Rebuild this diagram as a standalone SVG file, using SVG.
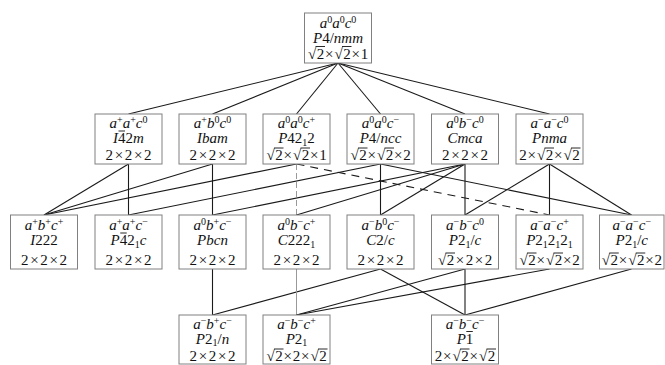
<svg xmlns="http://www.w3.org/2000/svg" width="665" height="365" viewBox="0 0 665 365">
<style>
.box{fill:#fff;stroke:#808080;stroke-width:1}
.t{font-family:"Liberation Serif","DejaVu Serif",serif;font-size:15px;text-anchor:middle;fill:#111}
.i{font-style:italic}
.s{font-size:10px}
.bar{stroke:#111;stroke-width:0.9;fill:none}
.e{stroke:#1a1a1a;stroke-width:1.1;fill:none}
.g{stroke:#999;stroke-width:1;fill:none}
.gd{stroke:#999;stroke-width:1;fill:none;stroke-dasharray:6,3}
.d{stroke:#1a1a1a;stroke-width:1.1;fill:none;stroke-dasharray:8,6}
</style>
<g id="connectors">
<line class="e" x1="338" y1="63" x2="128.5" y2="114"/>
<line class="e" x1="338" y1="63" x2="212.5" y2="114"/>
<line class="e" x1="338" y1="63" x2="296.5" y2="114"/>
<line class="e" x1="338" y1="63" x2="380.5" y2="114"/>
<line class="e" x1="338" y1="63" x2="465" y2="114"/>
<line class="e" x1="338" y1="63" x2="549.5" y2="114"/>
<line class="e" x1="128.5" y1="164" x2="44" y2="215"/>
<line class="e" x1="128.5" y1="164" x2="128.5" y2="215"/>
<line class="e" x1="212.5" y1="164" x2="44" y2="215"/>
<line class="e" x1="212.5" y1="164" x2="212.5" y2="215"/>
<line class="e" x1="296.5" y1="164" x2="44" y2="215"/>
<line class="gd" x1="296.5" y1="164" x2="296.5" y2="215"/>
<line class="d" x1="296.5" y1="164" x2="549.5" y2="215"/>
<line class="e" x1="380.5" y1="164" x2="128.5" y2="215"/>
<line class="e" x1="380.5" y1="164" x2="380.5" y2="215"/>
<line class="e" x1="380.5" y1="164" x2="631.5" y2="215"/>
<line class="e" x1="465" y1="164" x2="212.5" y2="215"/>
<line class="e" x1="465" y1="164" x2="296.5" y2="215"/>
<line class="e" x1="465" y1="164" x2="380.5" y2="215"/>
<line class="e" x1="465" y1="164" x2="465" y2="215"/>
<line class="e" x1="549.5" y1="164" x2="465" y2="215"/>
<line class="e" x1="549.5" y1="164" x2="549.5" y2="215"/>
<line class="e" x1="549.5" y1="164" x2="631.5" y2="215"/>
<line class="e" x1="212.5" y1="269" x2="212.5" y2="315"/>
<line class="e" x1="380.5" y1="269" x2="212.5" y2="315"/>
<line class="e" x1="380.5" y1="269" x2="465" y2="315"/>
<line class="g" x1="296.5" y1="269" x2="296.5" y2="315"/>
<line class="e" x1="465" y1="269" x2="296.5" y2="315"/>
<line class="e" x1="549.5" y1="269" x2="296.5" y2="315"/>
<line class="e" x1="465" y1="269" x2="465" y2="315"/>
<line class="e" x1="631.5" y1="269" x2="465" y2="315"/>
</g>

<g id="n-a0a0c0">
<rect class="box" x="304.5" y="13" width="67" height="50"/>
<text class="t" x="338" y="28"><tspan class="i">a</tspan><tspan class="s" dy="-5">0</tspan><tspan class="i" dy="5">a</tspan><tspan class="s" dy="-5">0</tspan><tspan class="i" dy="5">c</tspan><tspan class="s" dy="-5">0</tspan></text>
<text class="t" x="338" y="42.5"><tspan class="i">P</tspan>4/<tspan class="i">nmm</tspan></text>
<text class="t" x="312 320.5 329.25 338.5 347 355.75 364.5" y="58.5">√2×√2×1</text>
<path class="bar" d="M315.5 46.5H325M342 46.5H351.5"/>
</g>

<g id="n-apapc0">
<rect class="box" x="95" y="114" width="67" height="50"/>
<text class="t" x="128.5" y="128"><tspan class="i">a</tspan><tspan class="s" dy="-5">+</tspan><tspan class="i" dy="5">a</tspan><tspan class="s" dy="-5">+</tspan><tspan class="i" dy="5">c</tspan><tspan class="s" dy="-5">0</tspan></text>
<text class="t" x="128.5" y="143"><tspan class="i">I</tspan>42<tspan class="i">m</tspan></text>
<path class="bar" d="M118.5 131H125"/>
<text class="t" x="128.5" y="160" textLength="46" lengthAdjust="spacing">2×2×2</text>
</g>

<g id="n-apb0c0">
<rect class="box" x="179" y="114" width="67" height="50"/>
<text class="t" x="212.5" y="128"><tspan class="i">a</tspan><tspan class="s" dy="-5">+</tspan><tspan class="i" dy="5">b</tspan><tspan class="s" dy="-5">0</tspan><tspan class="i" dy="5">c</tspan><tspan class="s" dy="-5">0</tspan></text>
<text class="t i" x="212.5" y="143">Ibam</text>
<text class="t" x="212.5" y="160" textLength="46" lengthAdjust="spacing">2×2×2</text>
</g>

<g id="n-a0a0cp">
<rect class="box" x="263" y="114" width="67" height="50"/>
<text class="t" x="296.5" y="128"><tspan class="i">a</tspan><tspan class="s" dy="-5">0</tspan><tspan class="i" dy="5">a</tspan><tspan class="s" dy="-5">0</tspan><tspan class="i" dy="5">c</tspan><tspan class="s" dy="-5">+</tspan></text>
<text class="t" x="296.5" y="143"><tspan class="i">P</tspan>42<tspan class="s" dy="2.5">1</tspan><tspan dy="-2.5">2</tspan></text>
<text class="t" x="270.5 279 287.75 297 305.5 314.25 323" y="160">√2×√2×1</text>
<path class="bar" d="M274 148H283.5M300.5 148H310"/>
</g>

<g id="n-a0a0cm">
<rect class="box" x="347" y="114" width="67" height="50"/>
<text class="t" x="380.5" y="128"><tspan class="i">a</tspan><tspan class="s" dy="-5">0</tspan><tspan class="i" dy="5">a</tspan><tspan class="s" dy="-5">0</tspan><tspan class="i" dy="5">c</tspan><tspan class="s" dy="-5">−</tspan></text>
<text class="t" x="380.5" y="143"><tspan class="i">P</tspan>4/<tspan class="i">ncc</tspan></text>
<text class="t" x="354.5 363 371.75 381 389.5 398.25 407" y="160">√2×√2×2</text>
<path class="bar" d="M358 148H367.5M384.5 148H394"/>
</g>

<g id="n-a0bmc0">
<rect class="box" x="431.5" y="114" width="67" height="50"/>
<text class="t" x="465" y="128"><tspan class="i">a</tspan><tspan class="s" dy="-5">0</tspan><tspan class="i" dy="5">b</tspan><tspan class="s" dy="-5">−</tspan><tspan class="i" dy="5">c</tspan><tspan class="s" dy="-5">0</tspan></text>
<text class="t i" x="465" y="143">Cmca</text>
<text class="t" x="465" y="160" textLength="46" lengthAdjust="spacing">2×2×2</text>
</g>

<g id="n-amamc0">
<rect class="box" x="516" y="114" width="67" height="50"/>
<text class="t" x="549.5" y="128"><tspan class="i">a</tspan><tspan class="s" dy="-5">−</tspan><tspan class="i" dy="5">a</tspan><tspan class="s" dy="-5">−</tspan><tspan class="i" dy="5">c</tspan><tspan class="s" dy="-5">0</tspan></text>
<text class="t i" x="549.5" y="143">Pnma</text>
<text class="t" x="523 531.75 541 549.5 558.25 567.5 576" y="160">2×√2×√2</text>
<path class="bar" d="M544.5 148H554M571 148H580.5"/>
</g>

<g id="n-apbpcp">
<rect class="box" x="10.5" y="215" width="67" height="54"/>
<text class="t" x="44" y="229.5"><tspan class="i">a</tspan><tspan class="s" dy="-5">+</tspan><tspan class="i" dy="5">b</tspan><tspan class="s" dy="-5">+</tspan><tspan class="i" dy="5">c</tspan><tspan class="s" dy="-5">+</tspan></text>
<text class="t" x="44" y="245"><tspan class="i">I</tspan>222</text>
<text class="t" x="44" y="265" textLength="46" lengthAdjust="spacing">2×2×2</text>
</g>

<g id="n-apapcm">
<rect class="box" x="95" y="215" width="67" height="54"/>
<text class="t" x="128.5" y="229.5"><tspan class="i">a</tspan><tspan class="s" dy="-5">+</tspan><tspan class="i" dy="5">a</tspan><tspan class="s" dy="-5">+</tspan><tspan class="i" dy="5">c</tspan><tspan class="s" dy="-5">−</tspan></text>
<text class="t" x="128.5" y="245"><tspan class="i">P</tspan>42<tspan class="s" dy="2.5">1</tspan><tspan class="i" dy="-2.5">c</tspan></text>
<path class="bar" d="M120.25 233H126.75"/>
<text class="t" x="128.5" y="265" textLength="46" lengthAdjust="spacing">2×2×2</text>
</g>

<g id="n-a0bpcm">
<rect class="box" x="179" y="215" width="67" height="54"/>
<text class="t" x="212.5" y="229.5"><tspan class="i">a</tspan><tspan class="s" dy="-5">0</tspan><tspan class="i" dy="5">b</tspan><tspan class="s" dy="-5">+</tspan><tspan class="i" dy="5">c</tspan><tspan class="s" dy="-5">−</tspan></text>
<text class="t i" x="212.5" y="245">Pbcn</text>
<text class="t" x="212.5" y="265" textLength="46" lengthAdjust="spacing">2×2×2</text>
</g>

<g id="n-a0bmcp">
<rect class="box" x="263" y="215" width="67" height="54"/>
<text class="t" x="296.5" y="229.5"><tspan class="i">a</tspan><tspan class="s" dy="-5">0</tspan><tspan class="i" dy="5">b</tspan><tspan class="s" dy="-5">−</tspan><tspan class="i" dy="5">c</tspan><tspan class="s" dy="-5">+</tspan></text>
<text class="t" x="296.5" y="245"><tspan class="i">C</tspan>222<tspan class="s" dy="2.5">1</tspan></text>
<text class="t" x="296.5" y="265" textLength="46" lengthAdjust="spacing">2×2×2</text>
</g>

<g id="n-amb0cm">
<rect class="box" x="347" y="215" width="67" height="54"/>
<text class="t" x="380.5" y="229.5"><tspan class="i">a</tspan><tspan class="s" dy="-5">−</tspan><tspan class="i" dy="5">b</tspan><tspan class="s" dy="-5">0</tspan><tspan class="i" dy="5">c</tspan><tspan class="s" dy="-5">−</tspan></text>
<text class="t" x="380.5" y="245"><tspan class="i">C</tspan>2/<tspan class="i">c</tspan></text>
<text class="t" x="380.5" y="265" textLength="46" lengthAdjust="spacing">2×2×2</text>
</g>

<g id="n-ambmc0">
<rect class="box" x="431.5" y="215" width="67" height="54"/>
<text class="t" x="465" y="229.5"><tspan class="i">a</tspan><tspan class="s" dy="-5">−</tspan><tspan class="i" dy="5">b</tspan><tspan class="s" dy="-5">−</tspan><tspan class="i" dy="5">c</tspan><tspan class="s" dy="-5">0</tspan></text>
<text class="t" x="465" y="245"><tspan class="i">P</tspan>2<tspan class="s" dy="2.5">1</tspan><tspan dy="-2.5">/</tspan><tspan class="i">c</tspan></text>
<text class="t" x="442 450.5 460 469.5 479 488.5" y="265">√2×2×2</text>
<path class="bar" d="M445.5 253H455"/>
</g>

<g id="n-amamcp">
<rect class="box" x="516" y="215" width="67" height="54"/>
<text class="t" x="549.5" y="229.5"><tspan class="i">a</tspan><tspan class="s" dy="-5">−</tspan><tspan class="i" dy="5">a</tspan><tspan class="s" dy="-5">−</tspan><tspan class="i" dy="5">c</tspan><tspan class="s" dy="-5">+</tspan></text>
<text class="t" x="549.5" y="245"><tspan class="i">P</tspan>2<tspan class="s" dy="2.5">1</tspan><tspan dy="-2.5">2</tspan><tspan class="s" dy="2.5">1</tspan><tspan dy="-2.5">2</tspan><tspan class="s" dy="2.5">1</tspan></text>
<text class="t" x="523.5 532 540.75 550 558.5 567.25 576" y="265">√2×√2×2</text>
<path class="bar" d="M527 253H536.5M553.5 253H563"/>
</g>

<g id="n-amamcm">
<rect class="box" x="599.5" y="215" width="64.5" height="54"/>
<text class="t" x="631.75" y="229.5"><tspan class="i">a</tspan><tspan class="s" dy="-5">−</tspan><tspan class="i" dy="5">a</tspan><tspan class="s" dy="-5">−</tspan><tspan class="i" dy="5">c</tspan><tspan class="s" dy="-5">−</tspan></text>
<text class="t" x="631.75" y="245"><tspan class="i">P</tspan>2<tspan class="s" dy="2.5">1</tspan><tspan dy="-2.5">/</tspan><tspan class="i">c</tspan></text>
<text class="t" x="605.75 614.25 623 632.25 640.75 649.5 658.25" y="265">√2×√2×2</text>
<path class="bar" d="M609.25 253H618.75M635.75 253H645.25"/>
</g>

<g id="n-ambpcm">
<rect class="box" x="179" y="315" width="67" height="49"/>
<text class="t" x="212.5" y="328.5"><tspan class="i">a</tspan><tspan class="s" dy="-5">−</tspan><tspan class="i" dy="5">b</tspan><tspan class="s" dy="-5">+</tspan><tspan class="i" dy="5">c</tspan><tspan class="s" dy="-5">−</tspan></text>
<text class="t" x="212.5" y="343.5"><tspan class="i">P</tspan>2<tspan class="s" dy="2.5">1</tspan><tspan dy="-2.5">/</tspan><tspan class="i">n</tspan></text>
<text class="t" x="212.5" y="361" textLength="46" lengthAdjust="spacing">2×2×2</text>
</g>

<g id="n-ambmcp">
<rect class="box" x="263" y="315" width="67" height="49"/>
<text class="t" x="296.5" y="328.5"><tspan class="i">a</tspan><tspan class="s" dy="-5">−</tspan><tspan class="i" dy="5">b</tspan><tspan class="s" dy="-5">−</tspan><tspan class="i" dy="5">c</tspan><tspan class="s" dy="-5">+</tspan></text>
<text class="t" x="296.5" y="343.5"><tspan class="i">P</tspan>2<tspan class="s" dy="2.5">1</tspan></text>
<text class="t" x="270.5 279 287.75 296.5 305.25 314.5 323" y="361">√2×2×√2</text>
<path class="bar" d="M274 349H283.5M318 349H327.5"/>
</g>

<g id="n-ambmcm">
<rect class="box" x="431.5" y="315" width="67" height="49"/>
<text class="t" x="465" y="328.5"><tspan class="i">a</tspan><tspan class="s" dy="-5">−</tspan><tspan class="i" dy="5">b</tspan><tspan class="s" dy="-5">−</tspan><tspan class="i" dy="5">c</tspan><tspan class="s" dy="-5">−</tspan></text>
<text class="t" x="465" y="343.5"><tspan class="i">P</tspan>1</text>
<path class="bar" d="M466.3 331.5H472.8"/>
<text class="t" x="438.5 447.25 456.5 465 473.75 483 491.5" y="361">2×√2×√2</text>
<path class="bar" d="M460 349H469.5M486.5 349H496"/>
</g>
</svg>
